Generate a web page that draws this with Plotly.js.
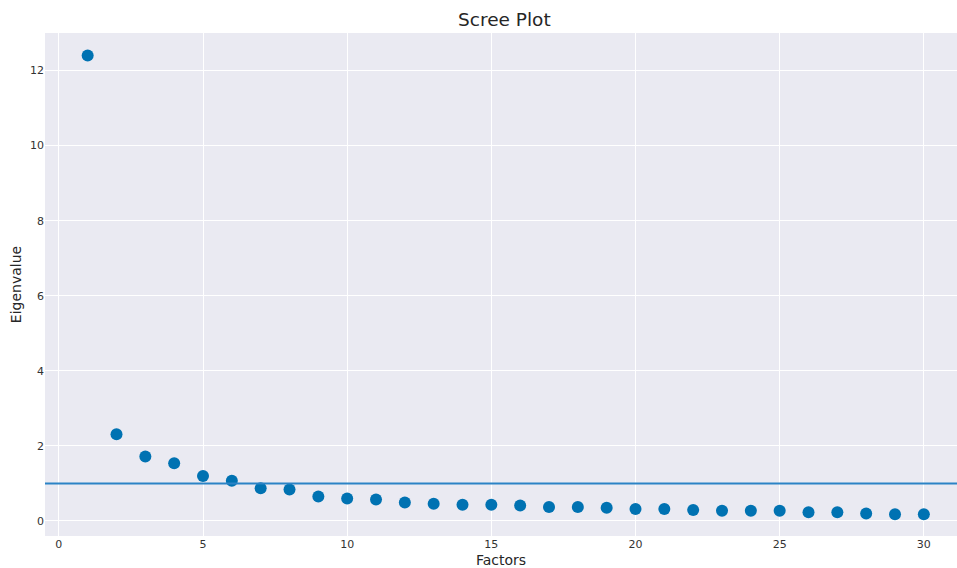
<!DOCTYPE html>
<html>
<head>
<meta charset="utf-8">
<script src="https://cdn.plot.ly/plotly-3.0.1.min.js"></script>
<style>html,body{margin:0;padding:0;background:#fff;}#chart{width:957px;height:568px;}</style>
</head>
<body>
<div id="chart"></div>
<script>
const factors = [1,2,3,4,5,6,7,8,9,10,11,12,13,14,15,16,17,18,19,20,21,22,23,24,25,26,27,28,29,30];
const eigenvalues = [12.4,2.31,1.72,1.54,1.2,1.07,0.87,0.84,0.65,0.6,0.57,0.49,0.46,0.43,0.43,0.41,0.37,0.37,0.35,0.32,0.32,0.29,0.27,0.27,0.27,0.23,0.23,0.2,0.18,0.18];
const threshold = 1;
const xTicks = [0,5,10,15,20,25,30];
const yTicks = [0,2,4,6,8,10,12];

const data = [{
  x: factors, y: eigenvalues, type: 'scatter', mode: 'markers',
  marker: {color: '#0072b2', size: 12},
  hoverinfo: 'x+y'
}];

const layout = {
  width: 957, height: 568,
  margin: {l: 45, r: 0, t: 33, b: 32},
  paper_bgcolor: '#ffffff', plot_bgcolor: '#eaeaf2',
  font: {family: 'DejaVu Sans, sans-serif', color: '#333333'},
  title: {text: 'Scree Plot', font: {size: 18.5, color: '#262626'}, x: 0.527, xanchor: 'center', y: 0.965, yanchor: 'middle'},
  showlegend: false,
  xaxis: {
    range: [-0.48, 31.15], tickvals: xTicks, ticktext: xTicks.map(String),
    showgrid: true, gridcolor: '#ffffff', gridwidth: 1, zeroline: false,
    showline: false, ticks: '', tickfont: {size: 11, color: '#333333'},
    title: {text: 'Factors', font: {size: 14, color: '#262626'}, standoff: 6}
  },
  yaxis: {
    range: [-0.4, 13.0], tickvals: yTicks, ticktext: yTicks.map(String),
    showgrid: true, gridcolor: '#ffffff', gridwidth: 1, zeroline: false,
    showline: false, ticks: '', tickfont: {size: 11, color: '#333333'},
    title: {text: 'Eigenvalue', font: {size: 14, color: '#262626'}, standoff: 5}
  },
  shapes: [{
    type: 'line', xref: 'paper', x0: 0, x1: 1, yref: 'y', y0: threshold, y1: threshold,
    line: {color: '#2b83c6', width: 2}, layer: 'above'
  }]
};

Plotly.newPlot('chart', data, layout, {displayModeBar: false, staticPlot: true});
</script>
</body>
</html>
